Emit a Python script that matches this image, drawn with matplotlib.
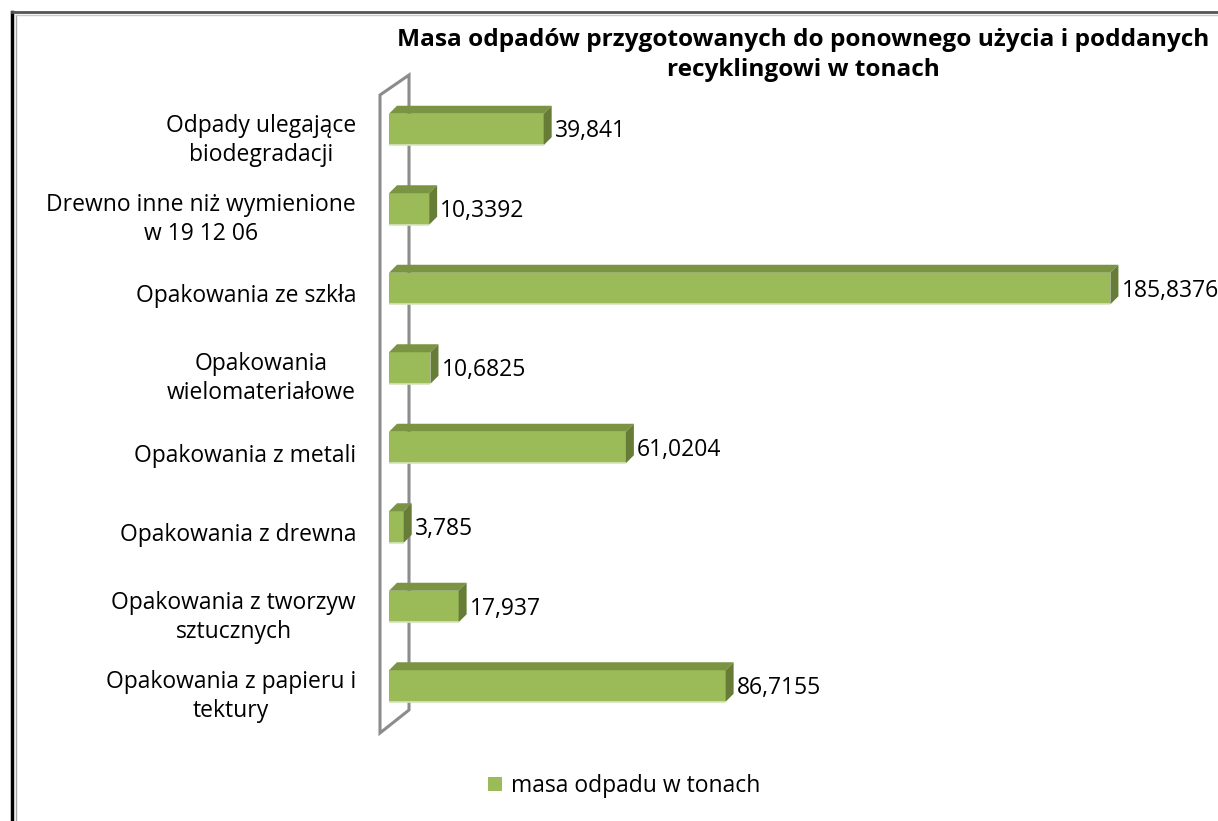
import matplotlib
matplotlib.use("Agg")
import matplotlib.pyplot as plt
from matplotlib.patches import Polygon, Rectangle
from matplotlib.lines import Line2D
from matplotlib.transforms import ScaledTranslation

plt.rcParams['font.family'] = ['Open Sans', 'DejaVu Sans']

categories = [
    "Odpady ulegające\nbiodegradacji",
    "Drewno inne niż wymienione\nw 19 12 06",
    "Opakowania ze szkła",
    "Opakowania\nwielomateriałowe",
    "Opakowania z metali",
    "Opakowania z drewna",
    "Opakowania z tworzyw\nsztucznych",
    "Opakowania z papieru i\ntektury",
]
values = [39.841, 10.3392, 185.8376, 10.6825, 61.0204, 3.785, 17.937, 86.7155]
series_name = "masa odpadu w tonach"
title = "Masa odpadów przygotowanych do ponownego użycia i poddanych\nrecyklingowi w tonach"

W, H = 1218, 821
front_c = "#9bbb59"
top_c = "#7b9443"
side_c = "#677d37"
wall_c = "#8c8c8c"

fig = plt.figure(figsize=(W / 100, H / 100), dpi=100)

# axes geometry in pixels
px_unit = 3.882          # pixels per tonne
row_px = 79.5            # pixels per category
first_row_px = 129.5     # centre of first bar from top
ax_left, ax_top, ax_bottom = 370, 60, 760
ax = fig.add_axes([ax_left / W, 1 - ax_bottom / H, (W - ax_left) / W, (ax_bottom - ax_top) / H])
ax.set_xlim(-(389 - ax_left) / px_unit, (W - 389) / px_unit)
ax.set_ylim((ax_bottom - first_row_px) / row_px, (ax_top - first_row_px) / row_px)

# 3d depth offsets
dx = 8 / px_unit
dy = 8 / row_px
h = 31.5 / row_px

# back wall
wx0, wx1 = -9 / px_unit, 20 / px_unit
wall = Polygon([(wx0, (95 - first_row_px) / row_px), (wx1, (75 - first_row_px) / row_px),
                (wx1, (710 - first_row_px) / row_px), (wx0, (733 - first_row_px) / row_px)],
               closed=True, fill=False, edgecolor=wall_c, lw=2.2, zorder=1)
ax.add_patch(wall)

handle = None
for i, v in enumerate(values):
    y0, y1 = i - h / 2, i + h / 2
    front = Rectangle((0, y0), v, h, facecolor=front_c, edgecolor="none", zorder=3)
    ax.add_patch(front)
    if handle is None:
        handle = front
    ax.add_patch(Polygon([(0, y0), (v, y0), (v + dx, y0 - dy), (dx, y0 - dy)],
                         facecolor=top_c, edgecolor="none", zorder=3))
    ax.add_patch(Polygon([(v, y0), (v + dx, y0 - dy), (v + dx, y1 - dy), (v, y1)],
                         facecolor=side_c, edgecolor="none", zorder=3))
    ax.plot([0, v], [y1, y1], color="#d7e4bd", lw=1.2, zorder=3, solid_capstyle="butt")
    ax.text(v + dx + 0.8, i + 2 / row_px, str(v).replace(".", ","), va="center", ha="left",
            fontsize=16.5, color="black", zorder=4)

ax.set_yticks(range(len(categories)))
ax.set_yticklabels(categories, fontsize=16.5, multialignment="center", linespacing=1.3)
ax.tick_params(axis="y", length=0, pad=10)
shift = ScaledTranslation(0, -5 / 100, fig.dpi_scale_trans)
for lab in ax.get_yticklabels():
    lab.set_transform(lab.get_transform() + shift)
ax.set_xticks([])
for s in ax.spines.values():
    s.set_visible(False)
ax.patch.set_alpha(0)

fig.text(803 / W, 1 - 55 / H, title, ha="center", va="center", fontsize=17.6,
         fontweight="bold", linespacing=1.3)

leg = fig.legend(handles=[handle], labels=[series_name], loc="center",
                 bbox_to_anchor=(624 / W, 1 - 786 / H), frameon=False, fontsize=16.5,
                 handlelength=0.6, handleheight=0.6, handletextpad=0.4)

# outer frame
fig.add_artist(Line2D([11.5 / W, 11.5 / W], [0, 1 - 12 / H], color="black", lw=2.5))
fig.add_artist(Line2D([11.5 / W, 1], [1 - 12.5 / H, 1 - 12.5 / H], color="#555555", lw=2))
fig.add_artist(Line2D([15.5 / W, 15.5 / W], [0, 1 - 15 / H], color="#a6a6a6", lw=1))
fig.add_artist(Line2D([15.5 / W, 1], [1 - 15 / H, 1 - 15 / H], color="#c8c8c8", lw=1))

fig.savefig("out.png", dpi=100)
